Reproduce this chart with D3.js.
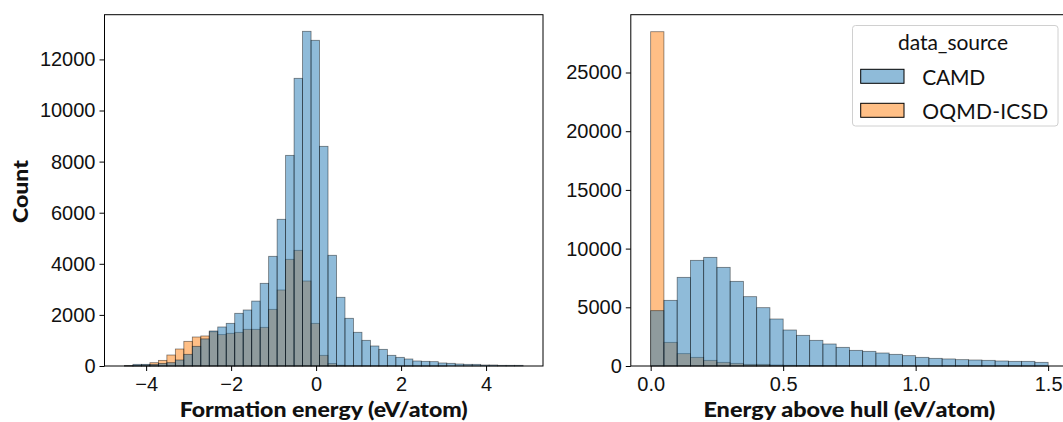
<!DOCTYPE html>
<html>
<head>
<meta charset="utf-8">
<script src="https://cdn.jsdelivr.net/npm/d3@7"></script>
<style>
  body { margin: 0; background: #fff; }
  svg { display: block; font-family: "Lato", "Noto Sans", sans-serif; }
  .tick text { font-size: 20px; fill: #111; }
  .axis-title { font-size: 21px; font-weight: 900; fill: #111; }
</style>
</head>
<body>
<div id="chart"></div>
<script>
var width = 1063,
    height = 422;

// formation energy histogram: 47 bins, common edges
var formationStart = -4.51,
    formationBinWidth = 0.1996;
var formationCAMD = [15, 65, 65, 65, 100, 130, 235, 457, 770, 1060, 1370, 1527, 1670, 2062, 2192, 2540,
    3236, 4293, 5742, 8245, 11260, 13100, 12748, 8598, 4333, 2689, 1867, 1319, 1005, 783, 652, 418,
    339, 274, 196, 183, 170, 118, 105, 78, 65, 65, 39, 39, 26, 26, 26];
var formationOQMD = [10, 20, 40, 130, 220, 430, 665, 965, 1135, 1175, 1340, 1227, 1280, 1318, 1436, 1436,
    1514, 2218, 2975, 4176, 4528, 3327, 1670, 418, 100, 30, 10, 8, 6, 5, 4, 3,
    2, 2, 1, 1, 1, 1, 0, 0, 0, 0, 0, 0, 0, 0, 0];

// energy above hull histogram: 30 bins from 0 to 1.5
var hullStart = 0,
    hullBinWidth = 0.05;
var hullCAMD = [4713, 5593, 7552, 9000, 9255, 8403, 7211, 5905, 4968, 4003, 3066, 2612, 2186, 1874, 1590,
    1334, 1249, 1107, 994, 880, 738, 653, 600, 540, 511, 483, 426, 397, 397, 312];
var hullOQMD = [28475, 2016, 1050, 738, 483, 312, 227, 142, 142, 85, 60, 45, 35, 28, 22,
    18, 15, 12, 10, 8, 7, 6, 5, 4, 4, 3, 3, 2, 2, 2];

var formationTicks = [-4, -2, 0, 2, 4],
    formationCountTicks = [0, 2000, 4000, 6000, 8000, 10000, 12000],
    hullTicks = [0, 0.5, 1.0, 1.5],
    hullCountTicks = [0, 5000, 10000, 15000, 20000, 25000];

var sources = ["CAMD", "OQMD-ICSD"];
var colors = {"CAMD": "#1f77b4", "OQMD-ICSD": "#ff7f0e"};

var svg = d3.select("#chart")
    .append("svg")
    .attr("width", width)
    .attr("height", height);

function toBins(start, w, counts) {
    return counts.map(function(c, i) {
        return {x0: start + i * w, x1: start + (i + 1) * w, count: c};
    });
}

function panel(opts) {
    var x = d3.scaleLinear().domain(opts.xDomain).range([opts.left, opts.right]);
    var y = d3.scaleLinear().domain(opts.yDomain).range([opts.bottom, opts.top]);
    var g = svg.append("g");

    // OQMD first, CAMD drawn on top
    [["OQMD-ICSD", opts.oqmd], ["CAMD", opts.camd]].forEach(function(s) {
        g.append("g").selectAll("rect")
            .data(toBins(opts.start, opts.binWidth, s[1]).filter(function(d) { return d.count > 0; }))
            .enter().append("rect")
            .attr("x", function(d) { return x(d.x0); })
            .attr("y", function(d) { return y(d.count); })
            .attr("width", function(d) { return x(d.x1) - x(d.x0); })
            .attr("height", function(d) { return y(0) - y(d.count); })
            .attr("fill", colors[s[0]])
            .attr("fill-opacity", 0.5)
            .attr("stroke", "#000")
            .attr("stroke-opacity", 0.5)
            .attr("stroke-width", 0.8);
    });

    g.append("rect")
        .attr("x", opts.left).attr("y", opts.top)
        .attr("width", opts.right - opts.left).attr("height", opts.bottom - opts.top)
        .attr("fill", "none").attr("stroke", "#000").attr("stroke-width", 1);

    var xa = g.append("g")
        .attr("transform", "translate(0," + opts.bottom + ")")
        .call(d3.axisBottom(x).tickValues(opts.xTicks).tickFormat(opts.xFormat).tickSize(5).tickPadding(3));
    var ya = g.append("g")
        .attr("transform", "translate(" + opts.left + ",0)")
        .call(d3.axisLeft(y).tickValues(opts.yTicks).tickFormat(d3.format("d")).tickSize(5).tickPadding(4));
    [xa, ya].forEach(function(a) {
        a.select(".domain").remove();
        a.selectAll(".tick line").attr("stroke", "#000");
        a.selectAll(".tick text").attr("font-family", null).attr("font-size", null);
    });
    xa.selectAll(".tick text").attr("dy", "0.85em");

    g.append("text")
        .attr("class", "axis-title")
        .attr("x", (opts.left + opts.right) / 2)
        .attr("y", 417)
        .attr("text-anchor", "middle")
        .attr("textLength", opts.titleWidth)
        .attr("lengthAdjust", "spacingAndGlyphs")
        .text(opts.xTitle);
    return g;
}

panel({
    left: 104.5, right: 543, top: 14.7, bottom: 366,
    xDomain: [-4.98, 5.34], yDomain: [0, 13750],
    start: formationStart, binWidth: formationBinWidth,
    camd: formationCAMD, oqmd: formationOQMD,
    xTicks: formationTicks, yTicks: formationCountTicks,
    xFormat: d3.format("d"),
    xTitle: "Formation energy (eV/atom)",
    titleWidth: 288
});

panel({
    left: 630.8, right: 1068, top: 14.7, bottom: 366,
    xDomain: [-0.075, 1.575], yDomain: [0, 29924],
    start: hullStart, binWidth: hullBinWidth,
    camd: hullCAMD, oqmd: hullOQMD,
    xTicks: hullTicks, yTicks: hullCountTicks,
    xFormat: d3.format(".1f"),
    xTitle: "Energy above hull (eV/atom)",
    titleWidth: 292
});

svg.append("text")
    .attr("class", "axis-title")
    .attr("transform", "translate(28,191.5) rotate(-90)")
    .attr("text-anchor", "middle")
    .attr("textLength", 63)
    .attr("lengthAdjust", "spacingAndGlyphs")
    .text("Count");

// legend
var legend = svg.append("g").attr("transform", "translate(852.5,25.5)");
legend.append("rect")
    .attr("width", 205.5).attr("height", 100.5)
    .attr("rx", 3)
    .attr("fill", "#fff").attr("fill-opacity", 0.8)
    .attr("stroke", "#d0d0d0").attr("stroke-width", 1);
legend.append("text")
    .attr("x", 100.5).attr("y", 24.5)
    .attr("text-anchor", "middle")
    .attr("font-size", 21).attr("fill", "#111")
    .attr("textLength", 110)
    .text("data_source");
var labelWidths = {"CAMD": 63, "OQMD-ICSD": 126};
var items = legend.selectAll(".item")
    .data(sources)
    .enter().append("g")
    .attr("class", "item")
    .attr("transform", function(d, i) { return "translate(8.2," + (43.8 + i * 34) + ")"; });
items.append("rect")
    .attr("width", 43.3).attr("height", 14)
    .attr("fill", function(d) { return colors[d]; })
    .attr("fill-opacity", 0.5)
    .attr("stroke", "#000").attr("stroke-width", 1);
items.append("text")
    .attr("x", 61.5).attr("y", 15.7)
    .attr("font-size", 21).attr("fill", "#111")
    .attr("textLength", function(d) { return labelWidths[d]; })
    .text(function(d) { return d; });
</script>
</body>
</html>
